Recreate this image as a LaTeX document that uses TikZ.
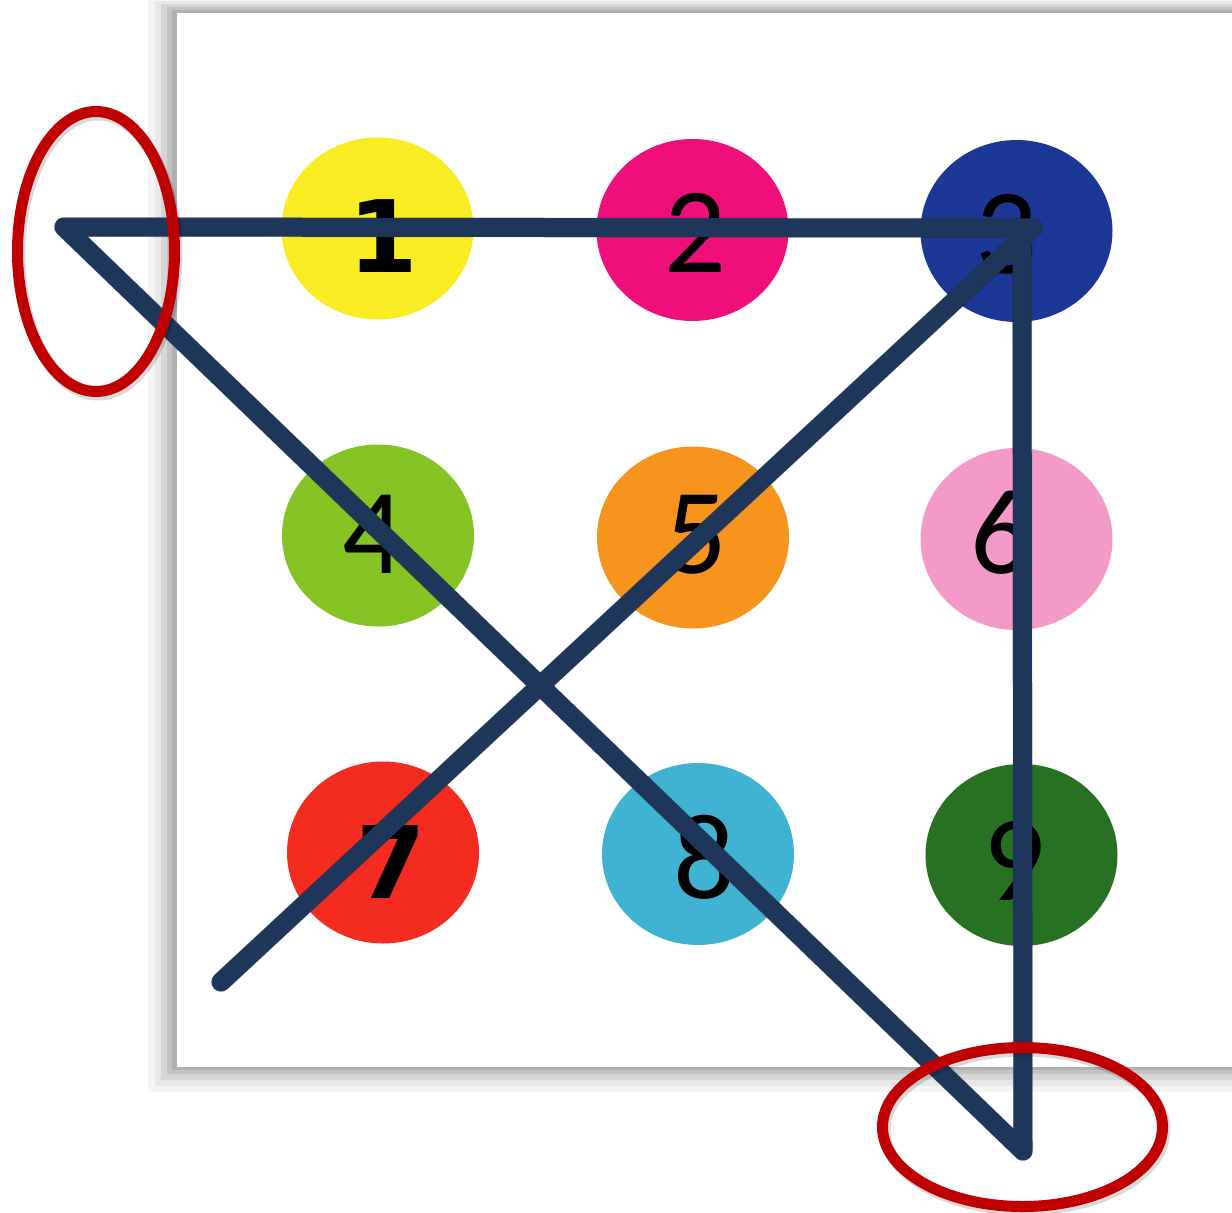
\documentclass[tikz,border=0pt]{standalone}
\usepackage{fontspec}
\setmainfont{Carlito}
\newfontfamily\dvsans{DejaVu Sans}
\usetikzlibrary{shapes.geometric}
\definecolor{navy}{HTML}{1D3659}
\definecolor{ringred}{HTML}{C00000}
\definecolor{cA}{HTML}{F9EC23}
\definecolor{cB}{HTML}{EE0F7B}
\definecolor{cC}{HTML}{1D3796}
\definecolor{cD}{HTML}{86C425}
\definecolor{cE}{HTML}{F7941E}
\definecolor{cF}{HTML}{F49AC9}
\definecolor{cG}{HTML}{F42C1F}
\definecolor{cH}{HTML}{41B3D2}
\definecolor{cI}{HTML}{287122}
\begin{document}
\begin{tikzpicture}[x=1pt,y=-1pt,
  dot/.style={ellipse, minimum width=192pt, minimum height=182pt, inner sep=0pt, draw=none, fill=#1},
  digit/.style={anchor=base, inner sep=0pt, text=black, font=\fontsize{122}{122}\selectfont},
  bdigit/.style={anchor=base, inner sep=0pt, text=black, font=\dvsans\bfseries\fontsize{100}{100}\selectfont},
  stroke/.style={draw=navy, line width=19pt, line cap=round, line join=round},
  strokeshadow/.style={draw=black, opacity=0.16, line width=20pt, line cap=round, line join=round},
  ring/.style={ellipse, draw=ringred, line width=11pt, inner sep=0pt, fill=none},
  ringshadow/.style={ellipse, draw=black, opacity=0.15, line width=12pt, inner sep=0pt, fill=none}]
\useasboundingbox (0,0) rectangle (1232,1213);
\fill[white] (0,0) rectangle (1232,1213);
% panel with shadow frame
\fill[black!4] (148,0) rectangle (1232,1092);
\fill[black!9] (155,1) rectangle (1232,1086);
\fill[black!16] (161,4) rectangle (1232,1080);
\fill[black!24] (167,7) rectangle (1232,1074);
\fill[black!31] (172,10) rectangle (1232,1070);
\fill[white] (177,13) rectangle (1232,1067);
% dots
\node[dot=cA] (c1) at (377.5,228.5) {};
\node[dot=cB] (c2) at (692.5,230) {};
\node[dot=cC] (c3) at (1016.5,231) {};
\node[dot=cD] (c4) at (378,535.5) {};
\node[dot=cE] (c5) at (693,537.5) {};
\node[dot=cF] (c6) at (1016.5,539) {};
\node[dot=cG] (c7) at (383,852.5) {};
\node[dot=cH] (c8) at (698,854) {};
\node[dot=cI] (c9) at (1021.5,855) {};
% digits
\node[bdigit] (d1) at (383,272) {1};
\node[digit] (d2) at (695,272) {2};
\node[digit] (d3) at (1006,273) {3};
\node[digit] (d4) at (373.5,573) {4};
\node[digit] (d5) at (696,573) {5};
\node[digit] (d6) at (1001,573) {6};
\node[bdigit] (d7) at (391,898) {7};
\node[digit] (d8) at (704.5,898) {8};
\node[digit] (d9) at (1014,900) {9};
% path points
\coordinate (p0) at (221,982);
\coordinate (p1) at (1033,228);
\coordinate (p2) at (64,227);
\coordinate (p3) at (1023,1151);
\coordinate (p4) at (1022,234);
% shadows of strokes
\begin{scope}[shift={(2,3)}]
\draw[strokeshadow] (p0) -- (p1) -- (p2) -- (p3) -- (p4);
\end{scope}
\draw[stroke] (p0) -- (p1) -- (p2) -- (p3) -- (p4);
% red rings
\node[ringshadow, minimum width=157pt, minimum height=280pt] (s1) at (98,254.5) {};
\node[ringshadow, minimum width=280pt, minimum height=159pt] (s2) at (1024.5,1130) {};
\node[ring, minimum width=157pt, minimum height=280pt] (r1) at (96,251.5) {};
\node[ring, minimum width=280pt, minimum height=159pt] (r2) at (1022.5,1127) {};
\end{tikzpicture}
\end{document}
